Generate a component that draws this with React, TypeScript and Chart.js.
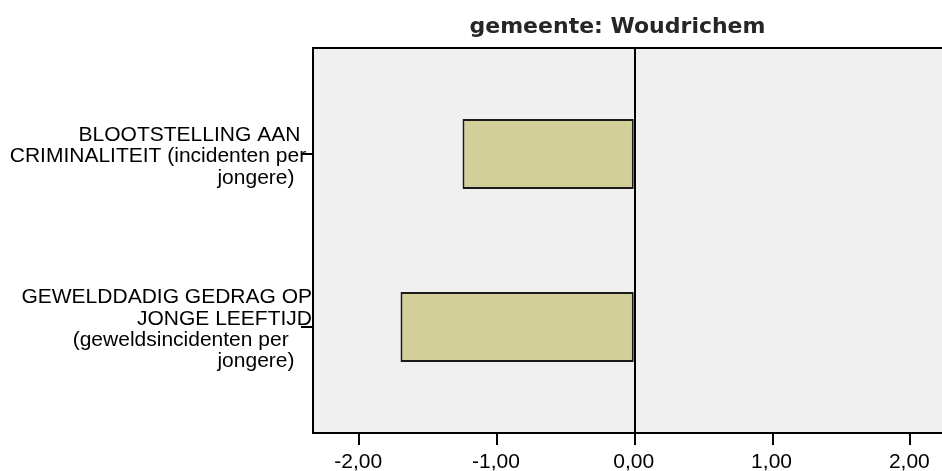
import React, { useEffect, useRef } from "react";
import { Chart, registerables } from "chart.js";

Chart.register(...registerables);

// ---- data ----
const chartTitle = "gemeente: Woudrichem";
const categoryLabels: string[][] = [
  ["BLOOTSTELLING AAN  ", "CRIMINALITEIT (incidenten per ", "jongere)   "],
  ["GEWELDDADIG GEDRAG OP", "JONGE LEEFTIJD", "(geweldsincidenten per    ", "jongere)   "],
];
const categoryIndex = [0, 1];
const values = [-1.25, -1.7];
const xTickValues = [-2, -1, 0, 1, 2];
// the original chart is wider than the picture; its right part is cut off
const xRange = [-2.335, 4.356];
const yRange = [-0.613, 1.613];

const LABEL_FONT = { family: "'Liberation Sans', Arial, sans-serif", size: 21, lineHeight: 1.01 };

const plotFrame = {
  id: "plotFrame",
  beforeDraw(chart: any) {
    const { ctx, chartArea: a } = chart;
    ctx.save();
    ctx.fillStyle = "#f0f0f0";
    ctx.fillRect(a.left, a.top, a.right - a.left, a.bottom - a.top);
    ctx.restore();
  },
  afterDraw(chart: any) {
    const { ctx, chartArea: a } = chart;
    ctx.save();
    ctx.strokeStyle = "#000";
    ctx.lineWidth = 2;
    ctx.beginPath();
    ctx.moveTo(a.left - 1, a.top);
    ctx.lineTo(a.right, a.top);
    ctx.stroke();
    ctx.restore();
  },
};

export default function App() {
  const ref = useRef<HTMLCanvasElement>(null);
  useEffect(() => {
    const chart = new Chart(ref.current as HTMLCanvasElement, {
      type: "bar",
      data: {
        datasets: [
          {
            data: values.map((v, i) => ({ x: v, y: categoryIndex[i] })),
            backgroundColor: "#d3cf99",
            borderColor: "#1a1a1a",
            borderWidth: 2,
            borderSkipped: false,
            categoryPercentage: 1,
            barPercentage: 0.405,
          } as any,
        ],
      },
      plugins: [plotFrame],
      options: {
        indexAxis: "y",
        animation: false,
        responsive: false,
        layout: { padding: 0 },
        plugins: {
          legend: { display: false },
          tooltip: { enabled: false },
          title: {
            display: true,
            text: chartTitle,
            color: "#262626",
            font: { family: "'DejaVu Sans', sans-serif", size: 22, weight: "bold", lineHeight: 1.2 },
            padding: { top: 14, bottom: 7.6 },
          },
        },
        scales: {
          x: {
            type: "linear",
            min: xRange[0],
            max: xRange[1],
            afterBuildTicks: (s: any) => {
              s.ticks = xTickValues.map((v) => ({ value: v }));
            },
            afterFit: (s: any) => {
              s.height = 38;
            },
            ticks: {
              callback: (v: any) => Number(v).toFixed(2).replace(".", ","),
              font: LABEL_FONT,
              color: "#000",
              padding: 7,
              autoSkip: false,
              maxRotation: 0,
              labelOffset: -1,
            },
            grid: {
              color: (c: any) => (c.tick && c.tick.value === 0 ? "#000" : "rgba(0,0,0,0)"),
              lineWidth: 2,
              tickColor: "#000",
              tickLength: 12,
              tickWidth: 2,
            },
            border: { color: "#000", width: 2 },
          },
          y: {
            type: "linear",
            min: yRange[0],
            max: yRange[1],
            reverse: true,
            offset: false,
            afterBuildTicks: (s: any) => {
              s.ticks = categoryIndex.map((v) => ({ value: v }));
            },
            afterFit: (s: any) => {
              s.width = 313;
            },
            ticks: {
              callback: (v: any) => categoryLabels[Math.round(Number(v))],
              font: LABEL_FONT,
              color: "#000",
              padding: -11,
              labelOffset: 2.5,
              autoSkip: false,
            },
            grid: {
              offset: false,
              drawOnChartArea: false,
              lineWidth: 2,
              tickColor: "#000",
              tickLength: 12,
              tickWidth: 2,
            },
            border: { color: "#000", width: 2 },
          },
        },
      } as any,
    });
    return () => chart.destroy();
  }, []);
  return (
    <div style={{ position: "absolute", left: 0, top: 0, width: 942, height: 471, overflow: "hidden" }}>
      <canvas ref={ref} width={1235} height={471} style={{ display: "block" }} />
    </div>
  );
}
